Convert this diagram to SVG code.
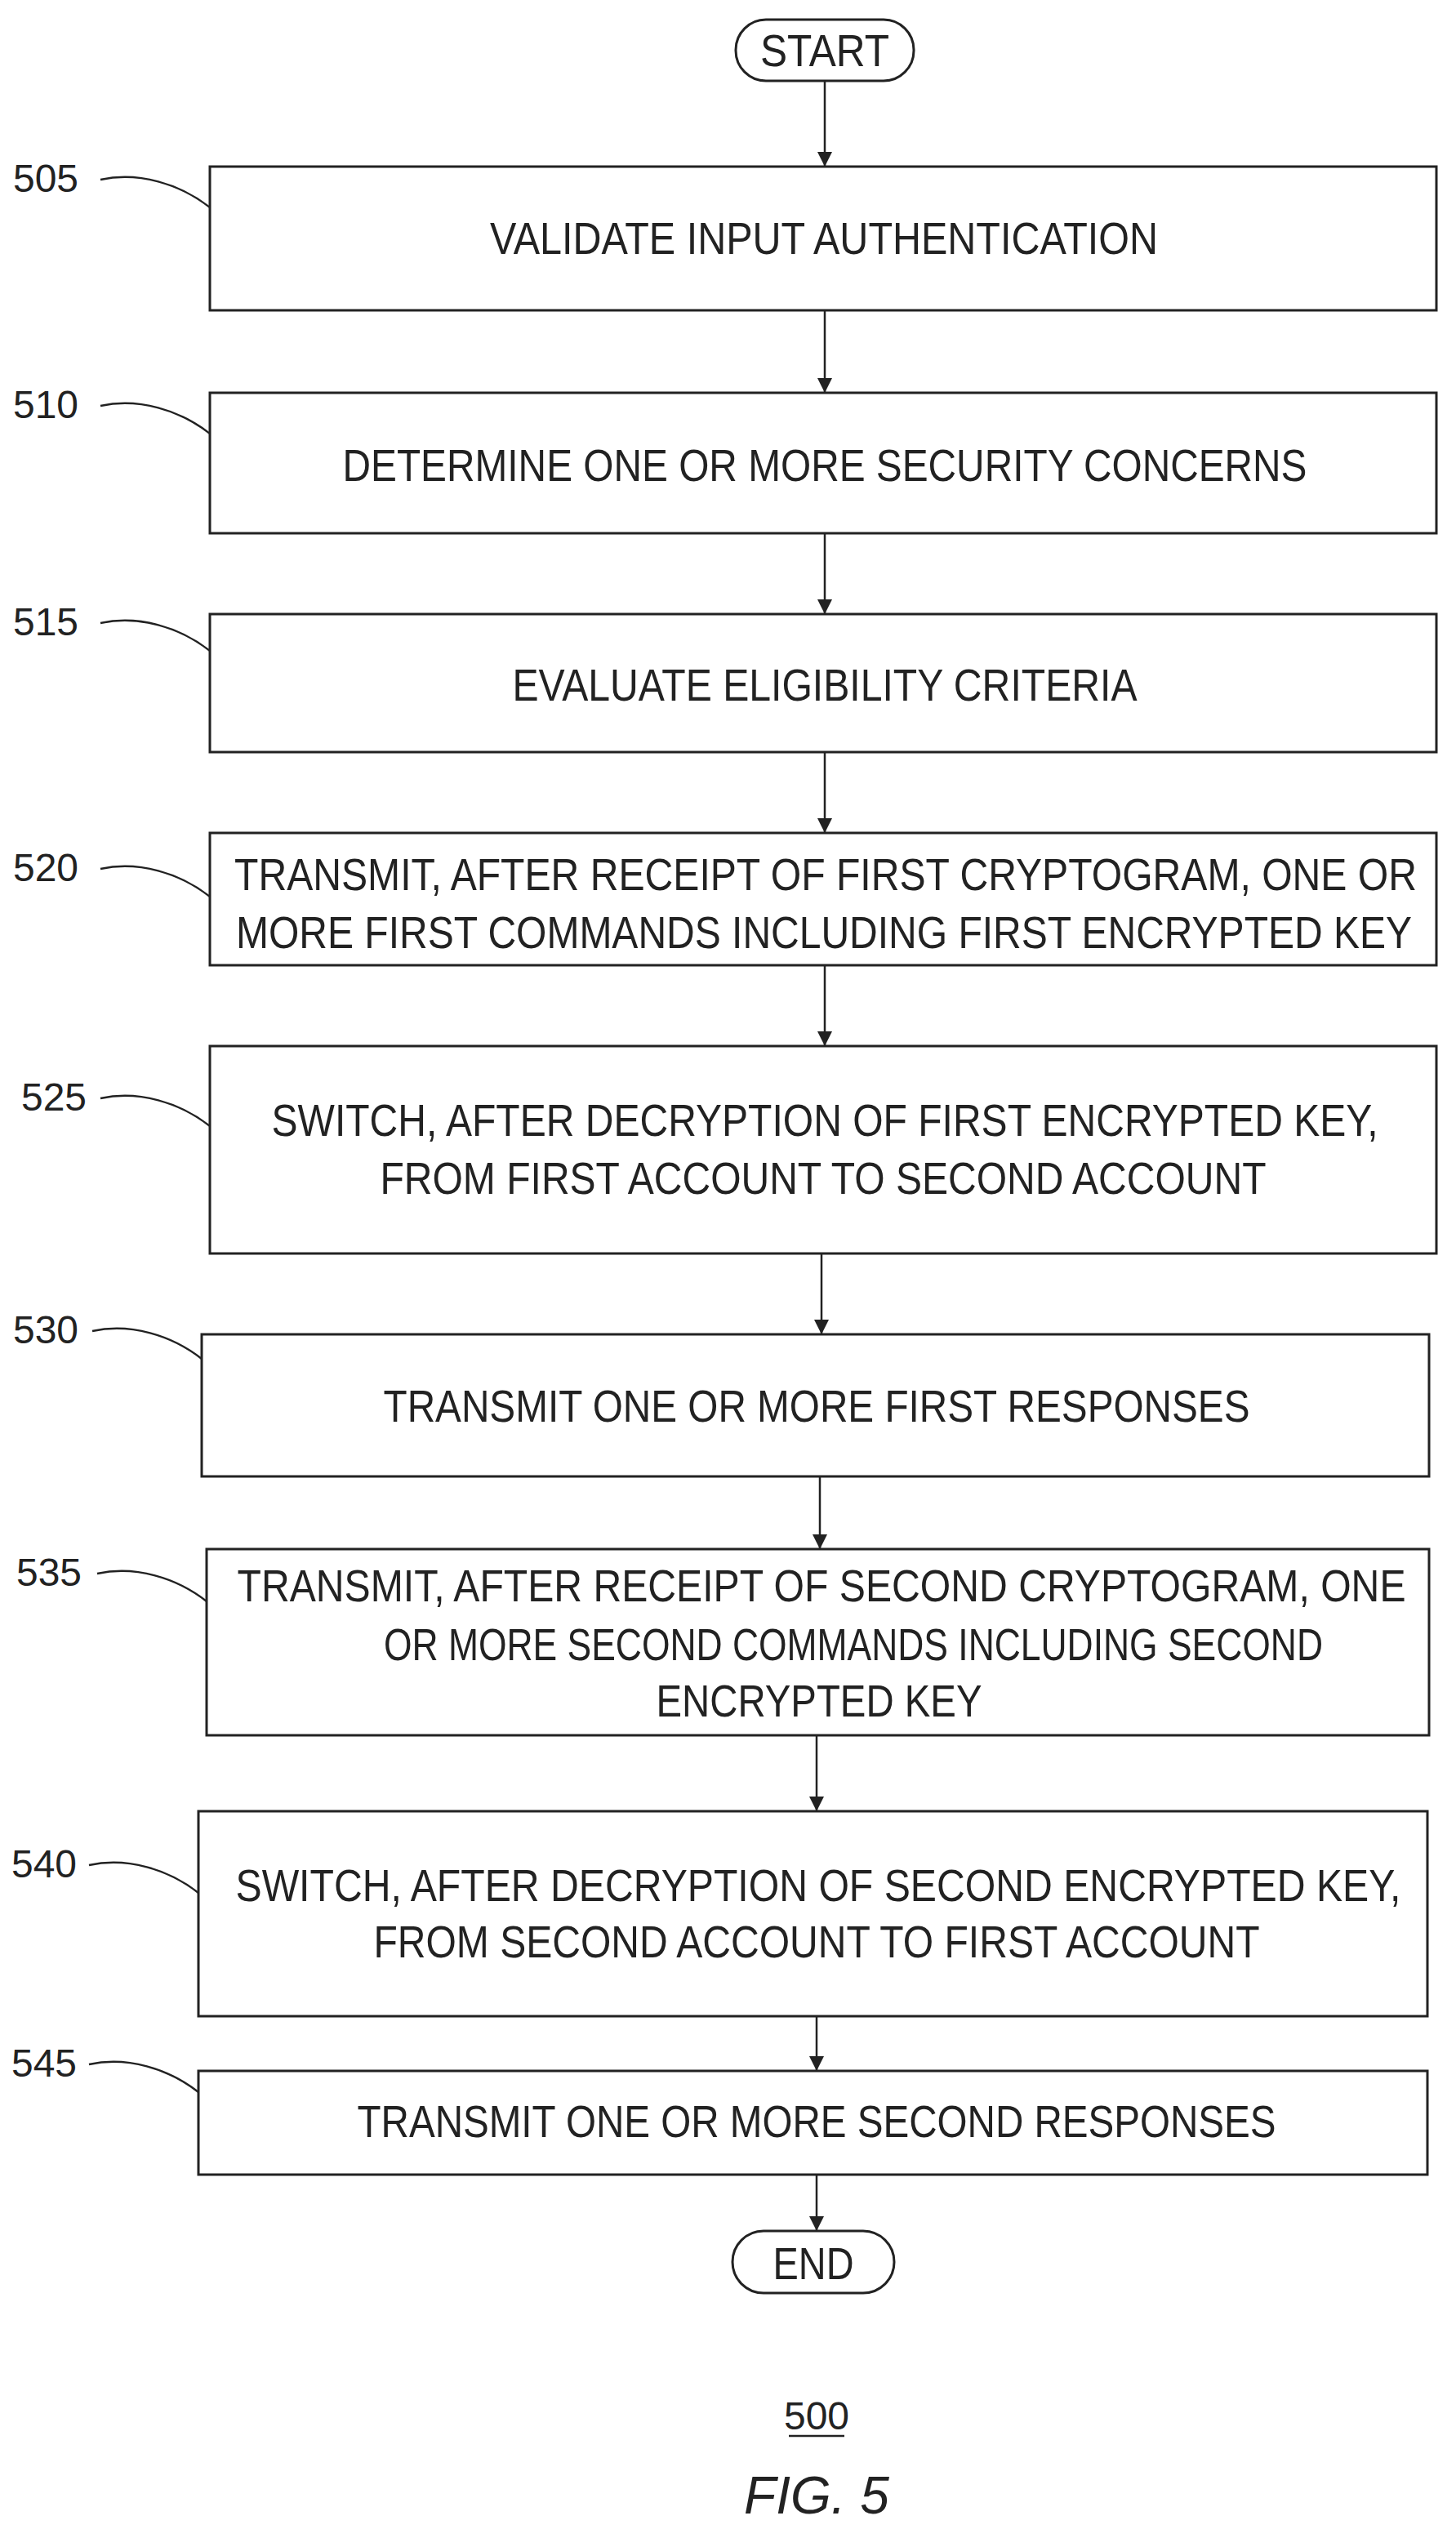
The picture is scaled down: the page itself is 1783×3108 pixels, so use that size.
<svg xmlns="http://www.w3.org/2000/svg" width="1783" height="3108" viewBox="0 0 1783 3108">
<defs>
<marker id="ah2" viewBox="0 0 10 10" refX="10" refY="5" markerWidth="24" markerHeight="18" markerUnits="userSpaceOnUse" orient="auto"><path d="M0,0 L10,5 L0,10 z" fill="#222"/></marker>
</defs>
<style>
.b{fill:#fff;stroke:#222;stroke-width:3}
.t{font-family:"Liberation Sans",Arial,sans-serif;font-size:55px;fill:#222;text-anchor:middle}
.r{font-family:"Liberation Sans",Arial,sans-serif;font-size:48px;fill:#222}
.l{fill:none;stroke:#222;stroke-width:2.5}
.c{fill:none;stroke:#222;stroke-width:2.5;marker-end:url(#ah2)}
</style>
<rect width="1783" height="3108" fill="#fff"/>
<g id="connectors">
<path class="c" d="M1010 99 V204"/>
<path class="c" d="M1010 380 V481"/>
<path class="c" d="M1010 653 V752"/>
<path class="c" d="M1010 921 V1020"/>
<path class="c" d="M1010 1182 V1281"/>
<path class="c" d="M1006 1535 V1634"/>
<path class="c" d="M1004 1808 V1897"/>
<path class="c" d="M1000 2125 V2218"/>
<path class="c" d="M1000 2469 V2536"/>
<path class="c" d="M1000 2663 V2732"/>
<path class="l" d="M123 220 C170 210 220 225 257 254"/>
<path class="l" d="M123 497 C170 487 220 502 257 531"/>
<path class="l" d="M123 763 C170 753 220 768 257 797"/>
<path class="l" d="M123 1064 C170 1054 220 1069 257 1098"/>
<path class="l" d="M123 1345 C170 1335 220 1350 257 1379"/>
<path class="l" d="M113 1630 C160 1620 210 1635 247 1664"/>
<path class="l" d="M119 1927 C166 1917 216 1932 253 1961"/>
<path class="l" d="M109 2284 C156 2274 206 2289 243 2318"/>
<path class="l" d="M109 2528 C156 2518 206 2533 243 2562"/>
</g>
<g id="start"><rect class="b" x="901" y="24" width="218" height="75" rx="37"/><text class="t" x="1010" y="81" textLength="158" lengthAdjust="spacingAndGlyphs">START</text></g>
<g id="n505"><rect class="b" x="257" y="204" width="1502" height="176"/><text class="t" x="1009" y="311" textLength="818" lengthAdjust="spacingAndGlyphs">VALIDATE INPUT AUTHENTICATION</text><text class="r" x="16" y="235" textLength="80" lengthAdjust="spacingAndGlyphs">505</text></g>
<g id="n510"><rect class="b" x="257" y="481" width="1502" height="172"/><text class="t" x="1010" y="589" textLength="1181" lengthAdjust="spacingAndGlyphs">DETERMINE ONE OR MORE SECURITY CONCERNS</text><text class="r" x="16" y="512" textLength="80" lengthAdjust="spacingAndGlyphs">510</text></g>
<g id="n515"><rect class="b" x="257" y="752" width="1502" height="169"/><text class="t" x="1010" y="858" textLength="765" lengthAdjust="spacingAndGlyphs">EVALUATE ELIGIBILITY CRITERIA</text><text class="r" x="16" y="778" textLength="80" lengthAdjust="spacingAndGlyphs">515</text></g>
<g id="n520"><rect class="b" x="257" y="1020" width="1502" height="162"/><text class="t" x="1011" y="1090" textLength="1448" lengthAdjust="spacingAndGlyphs">TRANSMIT, AFTER RECEIPT OF FIRST CRYPTOGRAM, ONE OR</text><text class="t" x="1009" y="1161" textLength="1440" lengthAdjust="spacingAndGlyphs">MORE FIRST COMMANDS INCLUDING FIRST ENCRYPTED KEY</text><text class="r" x="16" y="1079" textLength="80" lengthAdjust="spacingAndGlyphs">520</text></g>
<g id="n525"><rect class="b" x="257" y="1281" width="1502" height="254"/><text class="t" x="1010" y="1391" textLength="1355" lengthAdjust="spacingAndGlyphs">SWITCH, AFTER DECRYPTION OF FIRST ENCRYPTED KEY,</text><text class="t" x="1008" y="1462" textLength="1085" lengthAdjust="spacingAndGlyphs">FROM FIRST ACCOUNT TO SECOND ACCOUNT</text><text class="r" x="26" y="1360" textLength="80" lengthAdjust="spacingAndGlyphs">525</text></g>
<g id="n530"><rect class="b" x="247" y="1634" width="1503" height="174"/><text class="t" x="1000" y="1741" textLength="1061" lengthAdjust="spacingAndGlyphs">TRANSMIT ONE OR MORE FIRST RESPONSES</text><text class="r" x="16" y="1645" textLength="80" lengthAdjust="spacingAndGlyphs">530</text></g>
<g id="n535"><rect class="b" x="253" y="1897" width="1497" height="228"/><text class="t" x="1006" y="1961" textLength="1431" lengthAdjust="spacingAndGlyphs">TRANSMIT, AFTER RECEIPT OF SECOND CRYPTOGRAM, ONE</text><text class="t" x="1045" y="2033" textLength="1150" lengthAdjust="spacingAndGlyphs">OR MORE SECOND COMMANDS INCLUDING SECOND</text><text class="t" x="1003" y="2102" textLength="399" lengthAdjust="spacingAndGlyphs">ENCRYPTED KEY</text><text class="r" x="20" y="1942" textLength="80" lengthAdjust="spacingAndGlyphs">535</text></g>
<g id="n540"><rect class="b" x="243" y="2218" width="1505" height="251"/><text class="t" x="1002" y="2328" textLength="1427" lengthAdjust="spacingAndGlyphs">SWITCH, AFTER DECRYPTION OF SECOND ENCRYPTED KEY,</text><text class="t" x="1000" y="2397" textLength="1085" lengthAdjust="spacingAndGlyphs">FROM SECOND ACCOUNT TO FIRST ACCOUNT</text><text class="r" x="14" y="2299" textLength="80" lengthAdjust="spacingAndGlyphs">540</text></g>
<g id="n545"><rect class="b" x="243" y="2536" width="1505" height="127"/><text class="t" x="1000" y="2617" textLength="1125" lengthAdjust="spacingAndGlyphs">TRANSMIT ONE OR MORE SECOND RESPONSES</text><text class="r" x="14" y="2543" textLength="80" lengthAdjust="spacingAndGlyphs">545</text></g>
<g id="end"><rect class="b" x="897" y="2732" width="198" height="76" rx="38"/><text class="t" x="996" y="2791" textLength="99" lengthAdjust="spacingAndGlyphs">END</text></g>
<g id="caption">
<text class="r" x="1000" y="2975" text-anchor="middle">500</text>
<line x1="966" y1="2983" x2="1034" y2="2983" stroke="#222" stroke-width="2.5"/>
<text x="1000" y="3078" text-anchor="middle" style="font-family:'Liberation Sans',Arial,sans-serif;font-size:64px;font-style:italic;fill:#222">FIG. 5</text>
</g>
</svg>
